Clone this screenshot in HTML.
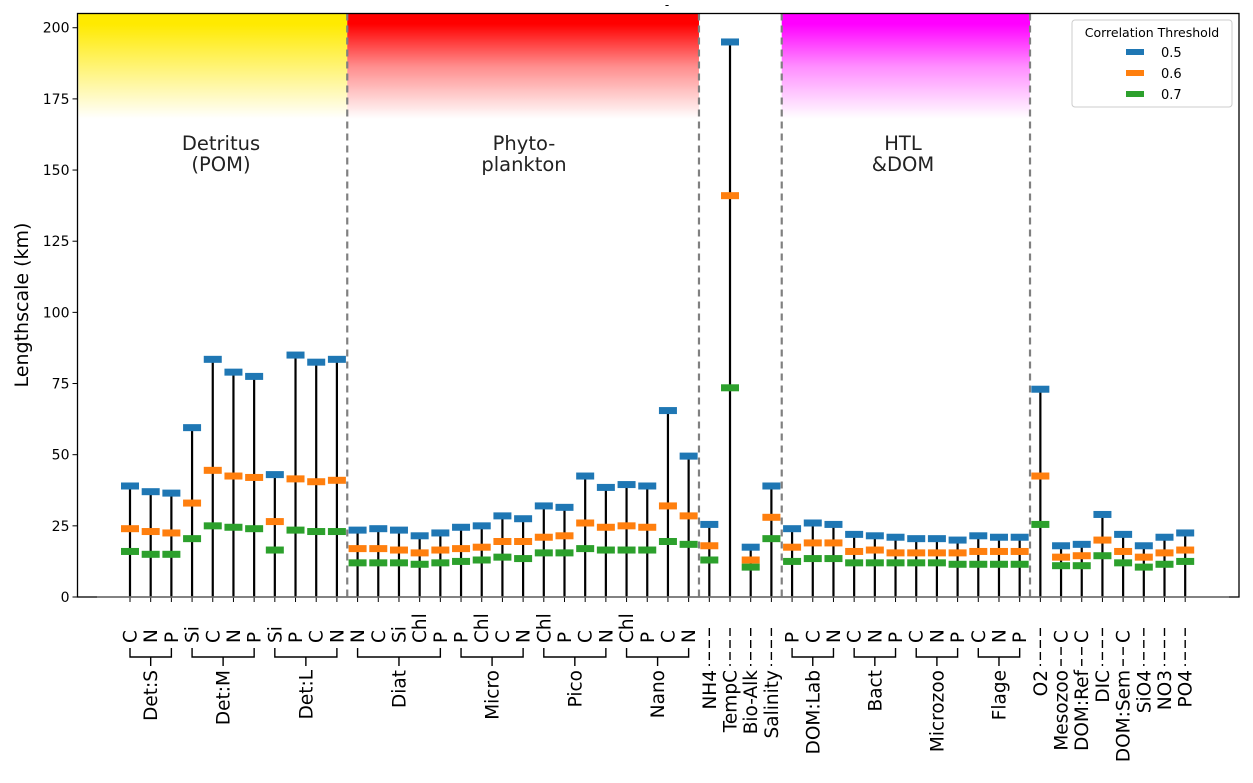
<!DOCTYPE html>
<html><head><meta charset="utf-8"><style>
body{margin:0;background:#fff;}
svg{font-family:"DejaVu Sans","Liberation Sans",sans-serif;}
</style></head><body>
<svg id="chart" width="1253" height="778" viewBox="0 0 1253 778" xmlns="http://www.w3.org/2000/svg">
<defs>
<linearGradient id="gy" x1="0" y1="0" x2="0" y2="1"><stop offset="0.1" stop-color="#ffea00"/><stop offset="0.5" stop-color="#ffea00" stop-opacity="0.55"/><stop offset="1" stop-color="#ffea00" stop-opacity="0"/></linearGradient>
<linearGradient id="gr" x1="0" y1="0" x2="0" y2="1"><stop offset="0.1" stop-color="#ff0000"/><stop offset="0.5" stop-color="#ff0000" stop-opacity="0.45"/><stop offset="1" stop-color="#ff0000" stop-opacity="0"/></linearGradient>
<linearGradient id="gm" x1="0" y1="0" x2="0" y2="1"><stop offset="0.1" stop-color="#ff00ff"/><stop offset="0.5" stop-color="#ff00ff" stop-opacity="0.45"/><stop offset="1" stop-color="#ff00ff" stop-opacity="0"/></linearGradient>
</defs>
<g id="bg"></g>
<g id="marks"></g>
<g id="axes"></g>
</svg>
<script>
const labels=["C","N","P","Si","C","N","P","Si","P","C","N","N","C","Si","Chl","P","P","Chl","C","N","Chl","P","C","N","Chl","P","C","N","NH4","TempC","Bio-Alk","Salinity","P","C","N","C","N","P","C","N","P","C","N","P","O2","Mesozoo","DOM:Ref","DIC","DOM:Sem","SiO4","NO3","PO4"];
const blue=[39,37,36.5,59.5,83.5,79,77.5,43,85,82.5,83.5,23.5,24,23.5,21.5,22.5,24.5,25,28.5,27.5,32,31.5,42.5,38.5,39.5,39,65.5,49.5,25.5,195,17.5,39,24,26,25.5,22,21.5,21,20.5,20.5,20,21.5,21,21,73,18,18.5,29,22,18,21,22.5];
const orange=[24,23,22.5,33,44.5,42.5,42,26.5,41.5,40.5,41,17,17,16.5,15.5,16.5,17,17.5,19.5,19.5,21,21.5,26,24.5,25,24.5,32,28.5,18,141,13,28,17.5,19,19,16,16.5,15.5,15.5,15.5,15.5,16,16,16,42.5,14,14.5,20,16,14,15.5,16.5];
const green=[16,15,15,20.5,25,24.5,24,16.5,23.5,23,23,12,12,12,11.5,12,12.5,13,14,13.5,15.5,15.5,17,16.5,16.5,16.5,19.5,18.5,13,73.5,10.5,20.5,12.5,13.5,13.5,12,12,12,12,12,11.5,11.5,11.5,11.5,25.5,11,11,14.5,12,10.5,11.5,12.5];
const groups=[["Det:S",0,2],["Det:M",3,6],["Det:L",7,10],["Diat",11,15],["Micro",16,19],["Pico",20,23],["Nano",24,27],["DOM:Lab",32,34],["Bact",35,37],["Microzoo",38,40],["Flage",41,43]];
const singles=[28,29,30,31,44,47,49,50,51];
const singlesWithSub={45:"C",46:"C",48:"C"};
const yTicks=[0,25,50,75,100,125,150,175,200];
const dividers=[10.5,27.5,31.5,43.5];
const L=77.5,R=1239,T=13.5,B=597;
const X=i=>130+i*20.69;
const Y=v=>B-v*(B-T)/205;
const NS="http://www.w3.org/2000/svg";
function mk(p,tag,a){const e=document.createElementNS(NS,tag);for(const k in a)e.setAttribute(k,a[k]);p.appendChild(e);return e;}
const bg=document.getElementById('bg'),mg=document.getElementById('marks'),ax=document.getElementById('axes');
const bands=[[-2.5,10.5,"gy","detritus-band"],[10.5,27.5,"gr","phytoplankton-band"],[31.5,43.5,"gm","htl-dom-band"]];
bands.forEach(b=>{const x1=Math.max(L,X(b[0]));const r=mk(bg,'rect',{x:x1,y:T,width:X(b[1])-x1,height:Y(168)-T,fill:'url(#'+b[2]+')'});

});
dividers.forEach(d=>{const l=mk(bg,'line',{x1:X(d),x2:X(d),y1:T,y2:B,stroke:'#808080','stroke-width':2.2,'stroke-dasharray':'7,5'});

});
const sect=[["Detritus","(POM)",221],["Phyto-","plankton",524],["HTL","&DOM",903]];
sect.forEach(s=>{const t=mk(bg,'text',{x:s[2],y:150,'text-anchor':'middle','font-size':19.5,fill:'#222'});


mk(t,'tspan',{x:s[2],dy:0}).textContent=s[0];mk(t,'tspan',{x:s[2],dy:21}).textContent=s[1];});
const bl=mk(mg,'line',{x1:97,x2:1229,y1:B,y2:B,stroke:'#808080','stroke-width':1.5});


labels.forEach((lab,i)=>{
 const x=X(i);
 const s=mk(mg,'line',{x1:x,x2:x,y1:B,y2:Y(blue[i]),stroke:'#000','stroke-width':2.2});
 
 
 [[blue,'#1f77b4','marker-0.5'],[orange,'#ff7f0e','marker-0.6'],[green,'#2ca02c','marker-0.7']].forEach(m=>{
  const r=mk(mg,'rect',{x:x-9,y:Y(m[0][i])-3.5,width:18,height:7,fill:m[1]});
  
  
 });
 const tk=mk(ax,'line',{x1:x,x2:x,y1:B,y2:B+5,stroke:'#000','stroke-width':1});
 
 
});
const sp=mk(ax,'rect',{x:L,y:T,width:R-L,height:B-T,fill:'none',stroke:'#000','stroke-width':1.3});


mk(ax,'line',{x1:97,x2:1229,y1:B,y2:B,stroke:'#808080','stroke-width':1.5});
yTicks.forEach(v=>{const y=Y(v);mk(ax,'line',{x1:L-5,x2:L,y1:y,y2:y,stroke:'#000'});
const t=mk(ax,'text',{x:L-8,y:y+5,'text-anchor':'end','font-size':14,fill:'#000'});t.textContent=v;

});
const yl=mk(ax,'text',{x:0,y:0,transform:'translate(28,305) rotate(-90)','text-anchor':'middle','font-size':19,fill:'#000'});
yl.textContent='Lengthscale (km)';


function vtext(x,yTop,txt,name){const t=mk(ax,'text',{transform:`translate(${x+6.5},${yTop}) rotate(-90)`,'text-anchor':'end','font-size':18.5,fill:'#000'});t.textContent=txt;

return t;}
function vsub(x,yBot,txt){const t=mk(ax,'text',{transform:`translate(${x+6.5},${yBot}) rotate(-90)`,'text-anchor':'start','font-size':18.5,fill:'#000'});t.textContent=txt;

return t;}
groups.forEach(g=>{for(let i=g[1];i<=g[2];i++)vsub(X(i),643,labels[i]);
 const a=X(g[1]),b=X(g[2]),c=(a+b)/2;
 const p=mk(ax,'path',{d:`M${a},648V657H${b}V648M${c},657V666`,fill:'none',stroke:'#000','stroke-width':1.4});
 
 
 vtext(c,670,g[0],'group-label');});
singles.forEach(i=>{const x=X(i);mk(ax,'line',{x1:x,x2:x,y1:628,y2:666,stroke:'#000','stroke-width':1.4,'stroke-dasharray':'8,4'});vtext(x,670,labels[i],'x-tick-label');});
Object.keys(singlesWithSub).forEach(k=>{const i=+k,x=X(i);vsub(x,643,singlesWithSub[k]);mk(ax,'line',{x1:x,x2:x,y1:647,y2:666,stroke:'#000','stroke-width':1.4,'stroke-dasharray':'8,4'});vtext(x,670,labels[i],'x-tick-label');});
const lg=mk(ax,'g',{});


mk(lg,'rect',{x:1072,y:20,width:160,height:87,rx:3,fill:'#fff',stroke:'#ccc'});
const lt=mk(lg,'text',{x:1152,y:37,'text-anchor':'middle','font-size':12.5,fill:'#000'});lt.textContent='Correlation Threshold';
[['0.5','#1f77b4'],['0.6','#ff7f0e'],['0.7','#2ca02c']].forEach((e,k)=>{const y=52+k*21;
const r=mk(lg,'rect',{x:1126,y:y-3,width:18,height:6,fill:e[1]});


const t=mk(lg,'text',{x:1161,y:y+5,'font-size':13,fill:'#000'});t.textContent=e[0];});
const ti=mk(ax,'text',{x:667,y:9,'text-anchor':'middle','font-size':12,fill:'#000'});ti.textContent='-';


</script>
</body></html>
